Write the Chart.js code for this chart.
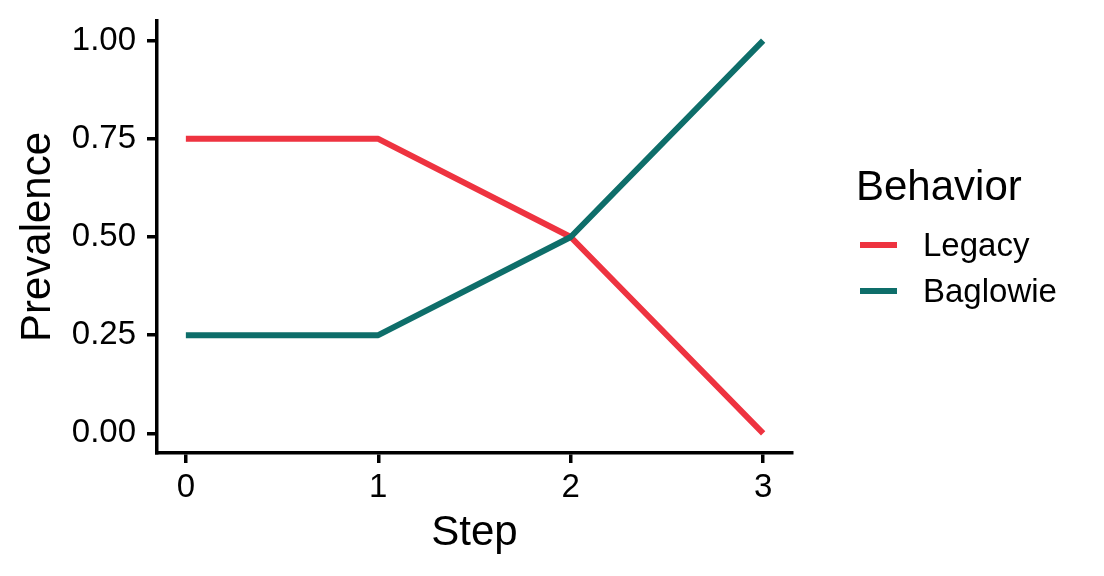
<!DOCTYPE html>
<html><head><meta charset="utf-8">
<script src="https://cdn.jsdelivr.net/npm/chart.js@4"></script>
<style>html,body{margin:0;padding:0;background:#fff}#wrap{width:1104px;height:576px}</style>
</head><body><div id="wrap"><canvas id="c" width="1104" height="576"></canvas></div>
<script>
const steps = [0, 1, 2, 3];
const legacy = [0.75, 0.75, 0.5, 0];
const baglowie = [0.25, 0.25, 0.5, 1];
const seriesNames = ['Legacy', 'Baglowie'];
const seriesColors = ['#EE3340', '#0E6E6A'];
const yTicks = [0, 0.25, 0.5, 0.75, 1];
const xTicks = [0, 1, 2, 3];
const legendTitle = 'Behavior';

const FONT = '"Liberation Sans", Arial, sans-serif';

const legendPlugin = {
  id: 'ggLegend',
  afterDraw(chart) {
    const ctx = chart.ctx;
    ctx.save();
    ctx.fillStyle = '#000';
    ctx.textAlign = 'left';
    ctx.textBaseline = 'alphabetic';
    ctx.font = '42px ' + FONT;
    ctx.fillText(legendTitle, 856, 200);
    const ys = [245, 291];
    chart.data.datasets.forEach((ds, i) => {
      ctx.strokeStyle = ds.borderColor;
      ctx.lineWidth = 6;
      ctx.beginPath();
      ctx.moveTo(860, ys[i]);
      ctx.lineTo(897, ys[i]);
      ctx.stroke();
      ctx.font = '33px ' + FONT;
      ctx.fillStyle = '#000';
      ctx.fillText(ds.label, 923, ys[i] + 11);
    });
    ctx.restore();
  }
};

new Chart(document.getElementById('c'), {
  type: 'line',
  data: {
    datasets: [
      { label: seriesNames[0], data: steps.map((s, i) => ({x: s, y: legacy[i]})), borderColor: seriesColors[0], borderWidth: 6, pointRadius: 0, order: 1, tension: 0, borderJoinStyle: 'round' },
      { label: seriesNames[1], data: steps.map((s, i) => ({x: s, y: baglowie[i]})), borderColor: seriesColors[1], borderWidth: 6, pointRadius: 0, order: 0, tension: 0, borderJoinStyle: 'round' }
    ]
  },
  options: {
    responsive: false,
    animation: false,
    devicePixelRatio: 1,
    layout: { padding: { left: 0, top: 21, right: 312, bottom: 0 } },
    plugins: { legend: { display: false }, tooltip: { enabled: false } },
    scales: {
      x: {
        type: 'linear', min: -0.15, max: 3.15,
        afterBuildTicks: s => { s.ticks = xTicks.map(v => ({value: v})); },
        afterFit: s => { s.height = 123; s.paddingLeft = 0; s.paddingRight = 0; },
        grid: { display: true, drawOnChartArea: false, drawTicks: true, tickLength: 10, color: '#000', lineWidth: 3.5 },
        border: { display: true, color: '#000', width: 3.5 },
        ticks: { color: '#000', font: { family: FONT, size: 33 }, padding: 5, maxRotation: 0, callback: v => String(v) },
        title: { display: true, text: 'Step', color: '#000', font: { family: FONT, size: 42 }, padding: { top: 0, bottom: 17 } }
      },
      y: {
        type: 'linear', min: -0.05, max: 1.05,
        afterBuildTicks: s => { s.ticks = yTicks.map(v => ({value: v})); },
        afterFit: s => { s.width = 157; s.paddingTop = 0; s.paddingBottom = 0; },
        grid: { display: true, drawOnChartArea: false, drawTicks: true, tickLength: 10, color: '#000', lineWidth: 3.5 },
        border: { display: true, color: '#000', width: 3.5 },
        ticks: { color: '#000', font: { family: FONT, size: 33 }, padding: 11, callback: v => v.toFixed(2) },
        title: { display: true, text: 'Prevalence', color: '#000', font: { family: FONT, size: 42 }, padding: { top: 13, bottom: 0 } }
      }
    }
  },
  plugins: [legendPlugin]
});
</script></body></html>
